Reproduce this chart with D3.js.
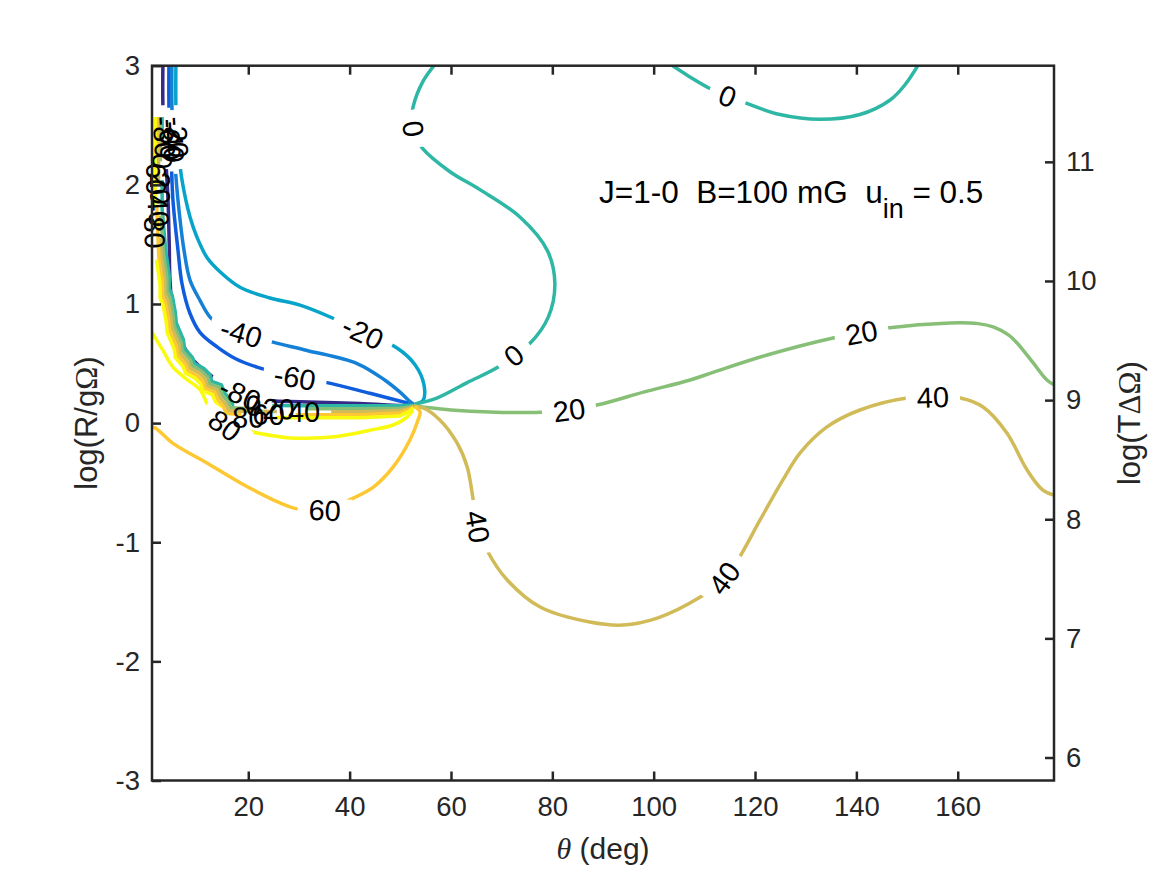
<!DOCTYPE html>
<html>
<head>
    <meta charset="UTF-8">
    <title>contour</title>
    <script src="https://cdn.jsdelivr.net/npm/d3@7"></script>
    <style>
        body { margin: 0; background: #fff; }
        text { font-family: "Liberation Sans", Arial, Helvetica, sans-serif; }
    </style>
</head>
<body>
<script>
    // axes
    var thetaRange = [1, 179]
    var logRRange = [-3, 3]
    var logTRange = [5.807, 11.807]
    var thetaTicks = [20, 40, 60, 80, 100, 120, 140, 160]
    var logRTicks = [-3, -2, -1, 0, 1, 2, 3]
    var logTTicks = [6, 7, 8, 9, 10, 11]

    // contour levels, parula colours
    var levels = [-80, -60, -40, -20, 0, 20, 40, 60, 80]
    var parula = ['#352a87', '#0f5cdd', '#1481d6', '#06a4ca', '#2eb7a4', '#87bf77', '#d1bb59', '#fec832', '#f9fb0e']

    // contour lines, [theta, logR]
    var cm80 = [[3.17,3.1],[3.17,2.63],[3.6,2.3],[4.16,1.87],[4.4,1.5],[4.55,1.20],[5.14,0.92],[6.5,0.72],[8.5,0.56],[12,0.42],[16.39,0.30],[20,0.23],[24.29,0.19],[30.21,0.18],[42.05,0.165],[51.92,0.145],[52.6,0.15]]
    var cm60 = [[4.36,3.1],[4.36,2.63],[4.8,2.2],[5.14,1.87],[6.13,1.45],[6.92,1.17],[8.5,0.92],[10.5,0.76],[13.83,0.64],[17.5,0.54],[21.72,0.47],[28.83,0.39],[35.54,0.34],[44.02,0.25],[49.5,0.19],[52.3,0.16]]
    var cm40 = [[4.95,3.1],[4.95,2.63],[5.5,2.2],[6.13,1.87],[7.32,1.45],[8.5,1.20],[10.47,1.03],[12.45,0.89],[15,0.81],[18.37,0.76],[24.88,0.68],[31.59,0.61],[41.46,0.50],[46.98,0.36],[49.94,0.26],[51.92,0.18],[52.7,0.155]]
    var cm20 = [[5.74,3.1],[5.74,2.63],[6.2,2.3],[6.92,2.04],[8.5,1.73],[9.88,1.56],[11.85,1.39],[14.42,1.27],[18.37,1.14],[24.29,1.05],[30.21,0.99],[36.73,0.88],[42.64,0.76],[49.35,0.63],[52.9,0.49],[54.68,0.32],[54.48,0.19],[52.9,0.16]]
    var c0a = [[57.6,3.05],[54.5,2.87],[52.5,2.65],[52.3,2.55],[52.7,2.43],[54.3,2.31],[59.8,2.11],[65.7,1.96],[73.6,1.73],[79.0,1.45],[80.5,1.17],[79.2,0.89],[75.6,0.67],[69.3,0.47],[63.2,0.34],[57.2,0.21],[52.9,0.16]]
    var c0b = [[102.0,3.05],[107,2.91],[111.5,2.80],[118.0,2.69],[124.9,2.59],[132.8,2.55],[140.7,2.59],[146.6,2.71],[149.6,2.84],[152.4,3.02]]
    var c20 = [[52.6,0.145],[54.5,0.135],[60,0.11],[67.7,0.093],[78.6,0.093],[88.8,0.152],[98,0.26],[107.2,0.362],[112,0.43],[122.4,0.572],[135.4,0.715],[146.1,0.799],[158.5,0.841],[164,0.835],[167.0,0.807],[170,0.74],[171.7,0.673],[174.9,0.505],[177.6,0.362],[179.5,0.31]]
    var c40 = [[52.6,0.14],[54.5,0.127],[57.8,0.026],[61.2,-0.167],[63.2,-0.369],[64.4,-0.646],[65.3,-0.872],[67.3,-1.082],[71.1,-1.317],[77.6,-1.544],[87.4,-1.670],[94.0,-1.695],[100.7,-1.637],[109.2,-1.460],[113.7,-1.317],[116.6,-1.149],[121.0,-0.813],[125.5,-0.477],[128.9,-0.250],[134.2,-0.032],[140.7,0.110],[150.0,0.211],[155.1,0.218],[160.5,0.211],[165.0,0.135],[169.7,-0.083],[173.7,-0.394],[176.8,-0.562],[179.5,-0.61]]
    var c60 = [[0.5,-0.03],[1.59,-0.04],[5.14,-0.17],[11.85,-0.335],[18.37,-0.50],[26.26,-0.67],[29.62,-0.72],[35.14,-0.73],[39.68,-0.65],[44.62,-0.54],[48.56,-0.37],[51.92,-0.14],[53.5,0.026],[53.9,0.093],[52.9,0.14]]
    var c80 = [[0.5,0.8],[1.59,0.72],[3.3,0.6],[5.14,0.47],[7.8,0.37],[10.47,0.28],[12.0,0.15],[13.2,0.05],[15.41,-0.02],[19.35,-0.06],[21.72,-0.083],[28.23,-0.125],[33,-0.125],[38.1,-0.108],[44,-0.06],[48.56,-0.016],[51.33,0.05],[52.5,0.11]]

    // the jagged bundle along the left edge
    var band80 = [[1.6,2.57],[1.6,1.8],[1.9,1.37],[2.6,1.16],[2.6,1.05],[3.2,0.99],[3.8,0.85],[4.0,0.76],[5.4,0.62],[5.6,0.55],[7.2,0.47],[7.6,0.42],[9.4,0.38],[10.6,0.33],[11.0,0.27],[12.9,0.24],[13.6,0.17],[14.6,0.12],[15.2,0.06],[18.4,0.05],[30.2,0.045],[42.0,0.045],[49.9,0.06],[51.9,0.1],[52.6,0.13]]
    var band60 = [[1.95,2.57],[1.95,1.8],[2.35,1.39],[3.05,1.18],[3.05,1.07],[3.65,1.01],[4.25,0.87],[4.45,0.78],[5.85,0.64],[6.05,0.57],[7.65,0.49],[8.05,0.44],[9.85,0.40],[11.05,0.35],[11.45,0.29],[13.35,0.26],[14.05,0.19],[15.05,0.14],[15.65,0.08],[18.4,0.075],[30.2,0.07],[42.0,0.07],[49.9,0.085],[51.9,0.115],[52.6,0.135]]
    var band40 = [[2.3,2.57],[2.3,1.8],[2.8,1.41],[3.5,1.2],[3.5,1.09],[4.1,1.03],[4.7,0.89],[4.9,0.8],[6.3,0.66],[6.5,0.59],[8.1,0.51],[8.5,0.46],[10.3,0.42],[11.5,0.37],[11.9,0.31],[13.8,0.28],[14.5,0.21],[15.5,0.16],[16.1,0.105],[18.4,0.1],[30.2,0.095],[42.0,0.095],[49.9,0.105],[51.9,0.125],[52.6,0.14]]
    var band20 = [[2.65,2.57],[2.65,1.8],[3.25,1.43],[3.95,1.22],[3.95,1.11],[4.55,1.05],[5.15,0.91],[5.35,0.82],[6.75,0.68],[6.95,0.61],[8.55,0.53],[8.95,0.48],[10.75,0.44],[11.95,0.39],[12.35,0.33],[14.25,0.30],[14.95,0.23],[15.95,0.18],[16.55,0.13],[18.4,0.125],[30.2,0.12],[42.0,0.12],[49.9,0.125],[51.9,0.135],[52.6,0.145]]
    var band0 = [[3.0,2.57],[3.0,1.8],[3.7,1.45],[4.4,1.24],[4.4,1.13],[5.0,1.07],[5.6,0.93],[5.8,0.84],[7.2,0.70],[7.4,0.63],[9.0,0.55],[9.4,0.50],[11.2,0.46],[12.4,0.41],[12.8,0.35],[14.7,0.32],[15.4,0.25],[16.4,0.20],[17.0,0.155],[18.4,0.15],[30.2,0.145],[42.0,0.145],[49.9,0.145],[51.9,0.15],[52.6,0.15]]

    // inline labels: [level, theta, logR]
    var contourLabels = [
        [0, 52.6, 2.47], [0, 72.4, 0.57], [0, 114.6, 2.745],
        [20, 83.3, 0.11], [20, 141.0, 0.76],
        [40, 65.3, -0.87], [40, 113.9, -1.30], [40, 155.1, 0.218],
        [60, 35.1, -0.73],
        [-20, 42.6, 0.76], [-40, 18.6, 0.758], [-60, 29.2, 0.385],
        [-80, 3.45, 2.4], [-60, 4.6, 2.38], [-40, 5.25, 2.36], [-20, 6.05, 2.4],
        [80, 1.6, 1.6], [60, 1.95, 2.05], [40, 2.3, 1.78], [20, 2.65, 1.97], [0, 3.0, 2.2],
        [-80, 18.4, 0.245], [80, 15.4, -0.02], [80, 20.0, 0.05], [60, 24.0, 0.074],
        [40, 31.0, 0.095], [20, 26.0, 0.12], [0, 21.0, 0.15]
    ]

    var smoothSegs = [
        {level: -80, pts: cm80}, {level: -60, pts: cm60}, {level: -40, pts: cm40}, {level: -20, pts: cm20},
        {level: 0, pts: c0a}, {level: 0, pts: c0b}, {level: 20, pts: c20}, {level: 40, pts: c40},
        {level: 60, pts: c60}, {level: 80, pts: c80}
    ]
    var bandSegs = [
        {level: 80, pts: band80}, {level: 60, pts: band60}, {level: 40, pts: band40},
        {level: 20, pts: band20}, {level: 0, pts: band0}
    ]
    var allSegs = smoothSegs.concat(bandSegs)

    var W = 1167, H = 875
    var L = 152, R = 1054, T = 65.7, B = 780.5
    var ink = '#262626'
    var fs = 29

    var svg = d3.select('body').append('svg')
        .attr('width', W)
        .attr('height', H)

    var x = d3.scaleLinear().domain(thetaRange).range([L, R])
    var y = d3.scaleLinear().domain(logRRange).range([B, T])
    var y2 = d3.scaleLinear().domain(logTRange).range([B, T])
    var color = d3.scaleOrdinal().domain(levels).range(parula)

    var defs = svg.append('defs')
    defs.append('clipPath').attr('id', 'plot')
        .append('rect').attr('x', L).attr('y', T).attr('width', R - L).attr('height', B - T)

    var lineG = svg.append('g').attr('clip-path', 'url(#plot)')
    var labelG = svg.append('g')

    // where each label sits and how it turns
    var labels = contourLabels.map(function(c){
        var px = x(c[1]), py = y(c[2])
        var best = Infinity, ang = 0
        allSegs.filter(function(s){ return s.level === c[0] }).forEach(function(s){
            for (var i = 0; i < s.pts.length - 1; i++) {
                var ax = x(s.pts[i][0]), ay = y(s.pts[i][1])
                var bx = x(s.pts[i+1][0]), by = y(s.pts[i+1][1])
                var dx = bx - ax, dy = by - ay
                var l2 = dx*dx + dy*dy || 1
                var u = Math.max(0, Math.min(1, ((px-ax)*dx + (py-ay)*dy) / l2))
                var qx = ax + u*dx - px, qy = ay + u*dy - py
                var d = qx*qx + qy*qy
                if (d < best) { best = d; ang = Math.atan2(dy, dx) * 180 / Math.PI }
            }
        })
        if (ang > 90) ang -= 180
        if (ang <= -90) ang += 180
        return {level: c[0], text: String(c[0]), px: px, py: py, ang: ang}
    })

    labelG.selectAll('text')
        .data(labels)
        .enter()
        .append('text')
        .attr('transform', function(d){ return 'translate(' + d.px + ',' + d.py + ') rotate(' + d.ang + ')' })
        .attr('text-anchor', 'middle')
        .attr('dy', '0.36em')
        .attr('font-size', fs)
        .attr('fill', '#000')
        .text(function(d){ return d.text })
        .each(function(d){ d.w = this.getComputedTextLength() })

    // masks cut the line under its own labels
    levels.forEach(function(lv, i){
        var m = defs.append('mask').attr('id', 'm' + i)
            .attr('maskUnits', 'userSpaceOnUse')
            .attr('x', 0).attr('y', 0).attr('width', W).attr('height', H)
        m.append('rect').attr('width', W).attr('height', H).attr('fill', 'white')
        labels.filter(function(d){ return d.level === lv }).forEach(function(d){
            var w = d.w + 22, h = fs * 0.8
            m.append('rect')
                .attr('x', -w/2).attr('y', -h/2).attr('width', w).attr('height', h)
                .attr('transform', 'translate(' + d.px + ',' + d.py + ') rotate(' + d.ang + ')')
                .attr('fill', 'black')
        })
    })

    var smooth = d3.line()
        .x(function(d){ return x(d[0]) })
        .y(function(d){ return y(d[1]) })
        .curve(d3.curveCatmullRom.alpha(0.5))
    var jagged = d3.line()
        .x(function(d){ return x(d[0]) })
        .y(function(d){ return y(d[1]) })

    levels.forEach(function(lv, i){
        var g = lineG.append('g').attr('mask', 'url(#m' + i + ')')
        g.selectAll('path.band')
            .data(bandSegs.filter(function(s){ return s.level === lv }))
            .enter().append('path')
            .attr('d', function(s){ return jagged(s.pts) })
            .attr('fill', 'none')
            .attr('stroke', color(lv))
            .attr('stroke-width', 3.5)
            .attr('stroke-linejoin', 'round')
        g.selectAll('path.smooth')
            .data(smoothSegs.filter(function(s){ return s.level === lv }))
            .enter().append('path')
            .attr('d', function(s){ return smooth(s.pts) })
            .attr('fill', 'none')
            .attr('stroke', color(lv))
            .attr('stroke-width', 3.5)
            .attr('stroke-linejoin', 'round')
    })

    // axes
    function styleAxis(g){
        g.select('.domain').remove()
        g.selectAll('.tick line').attr('stroke', ink).attr('stroke-width', 2.5)
        g.selectAll('.tick text').attr('fill', ink).attr('font-size', 27.5)
            .attr('font-family', '"Liberation Sans", Arial, sans-serif')
    }
    var plain = function(d){ return String(d) }

    svg.append('g').attr('transform', 'translate(0,' + B + ')')
        .call(d3.axisBottom(x).tickValues(thetaTicks).tickFormat(plain).tickSize(-9).tickPadding(16))
        .call(styleAxis)
    svg.append('g').attr('transform', 'translate(0,' + T + ')')
        .call(d3.axisTop(x).tickValues(thetaTicks).tickSize(-9).tickFormat(''))
        .call(styleAxis)
    svg.append('g').attr('transform', 'translate(' + L + ',0)')
        .call(d3.axisLeft(y).tickValues(logRTicks).tickFormat(plain).tickSize(-9).tickPadding(12))
        .call(styleAxis)
    svg.append('g').attr('transform', 'translate(' + R + ',0)')
        .call(d3.axisRight(y2).tickValues(logTTicks).tickFormat(plain).tickSize(-9).tickPadding(12))
        .call(styleAxis)

    svg.append('rect')
        .attr('x', L).attr('y', T).attr('width', R - L).attr('height', B - T)
        .attr('fill', 'none').attr('stroke', ink).attr('stroke-width', 2.5)

    // axis titles
    var xl = svg.append('text')
        .attr('x', (L + R) / 2).attr('y', 859)
        .attr('text-anchor', 'middle').attr('font-size', 30).attr('fill', ink)
    xl.append('tspan').attr('font-family', '"Liberation Serif", serif').attr('font-style', 'italic').text('θ')
    xl.append('tspan').text(' (deg)')

    var yl = svg.append('text')
        .attr('transform', 'translate(97,' + (T + B) / 2 + ') rotate(-90)')
        .attr('text-anchor', 'middle').attr('font-size', 31).attr('fill', ink)
    yl.append('tspan').text('log(R/g')
    yl.append('tspan').attr('font-family', '"Liberation Serif", serif').text('Ω')
    yl.append('tspan').text(')')

    var yr = svg.append('text')
        .attr('transform', 'translate(1140,' + (T + B) / 2 + ') rotate(-90)')
        .attr('text-anchor', 'middle').attr('font-size', 31).attr('fill', ink)
    yr.append('tspan').text('log(T')
    yr.append('tspan').attr('font-family', '"Liberation Serif", serif').text('ΔΩ')
    yr.append('tspan').text(')')

    // annotation
    var note = svg.append('text')
        .attr('x', 599).attr('y', 203)
        .attr('font-size', 31.5).attr('fill', '#000')
        .style('white-space', 'pre')
    note.append('tspan').text('J=1-0  B=100 mG  u')
    note.append('tspan').attr('font-size', 27).attr('dy', 15).text('in')
    note.append('tspan').attr('dy', -15).text(' = 0.5')
</script>
</body>
</html>
